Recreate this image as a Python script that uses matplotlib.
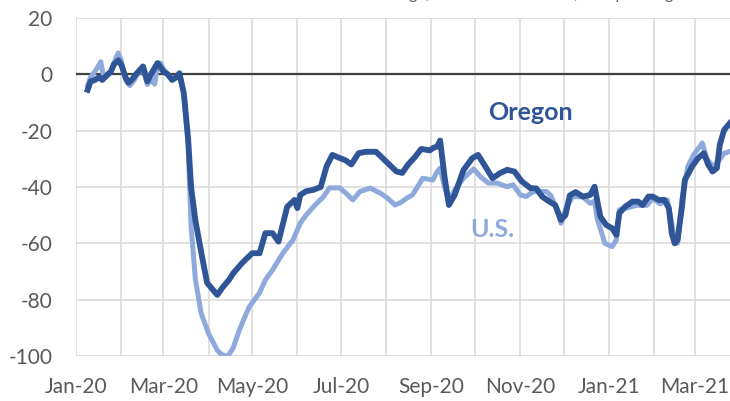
import matplotlib
matplotlib.use("Agg")
import matplotlib.pyplot as plt
import matplotlib.dates as mdates
import numpy as np
import pandas as pd

# donnees (jours depuis le 1er janvier 2020, valeur en %)
oregon_days = [8, 10, 13, 16, 18, 21, 24, 26, 29, 31, 34, 36, 39, 42, 46, 49, 52, 56, 60, 63,
               66, 69, 71, 74, 77, 79, 82, 87, 90, 94, 97, 101, 105, 108, 114, 118, 121, 126,
               130, 135, 139, 145, 150, 152, 154, 158, 163, 168, 172, 176, 181, 185, 189, 194,
               199, 206, 213, 220, 224, 228, 233, 237, 243, 245, 248, 250, 253, 256, 260, 266,
               272, 276, 281, 286, 291, 296, 301, 306, 312, 316, 320, 325, 329, 333, 336, 339,
               343, 348, 353, 356, 360, 364, 368, 371, 373, 377, 382, 386, 389, 393, 396, 400,
               404, 407, 409, 411, 413, 416, 418, 423, 427, 431, 434, 437, 440, 442, 445, 449]
oregon_vals = [-5.5, -2.5, -2.0, -1.0, -2.0, -0.5, 1.0, 3.5, 5.0, 3.5, -1.0, -3.0, -1.5, 0.5,
               2.8, -2.5, 0.5, 4.0, 1.0, 0.0, -2.0, -1.0, 0.4, -6.6, -23, -40, -52, -66, -74,
               -76.5, -78.3, -75.4, -73, -70.6, -67, -65, -63.5, -63.5, -56.4, -56.4, -59.4,
               -47, -44.6, -47.5, -42.8, -41.5, -41, -40, -32.7, -28.6, -29.7, -30.5, -32, -28,
               -27.5, -27.5, -31, -34.5, -35, -32, -29.2, -26.5, -27, -26.2, -25.6, -23.5,
               -36.3, -46.4, -42.8, -34, -29.8, -28.6, -32.7, -36.9, -35.1, -33.9, -34.5, -38,
               -40.4, -40.5, -43.4, -45.2, -46.4, -51.7, -50, -43, -41.8, -43.4, -42.8, -39.9,
               -50.5, -53.5, -54.6, -57, -49.3, -47, -45.2, -45.2, -46.4, -43.4, -43.4, -44.6,
               -44.6, -47.5, -56.4, -60, -58.8, -47, -37.5, -32.7, -29.8, -28, -32, -34.5,
               -33.3, -25, -19.7, -17.3]

us_days = [8, 10, 13, 16, 17, 19, 21, 24, 26, 29, 31, 34, 37, 40, 42, 46, 49, 52, 54, 56, 58,
           60, 63, 66, 69, 71, 74, 77, 79, 82, 86, 91, 97, 100, 103, 105, 108, 112, 116, 119,
           126, 130, 135, 142, 149, 154, 158, 163, 170, 174, 181, 186, 190, 195, 202, 209, 214,
           219, 223, 227, 231, 235, 238, 245, 248, 250, 253, 256, 260, 266, 273, 278, 283, 289,
           296, 300, 305, 309, 314, 320, 323, 326, 330, 333, 336, 341, 348, 353, 356, 358, 361,
           363, 368, 371, 373, 378, 385, 392, 396, 401, 406, 408, 411, 413, 416, 420, 424, 430,
           433, 437, 440, 445, 449]
us_vals = [-4.0, -1.0, 1.0, 3.5, 4.5, -1.0, 0.0, 1.0, 4.0, 7.6, 5.0, -2.0, -4.0, -2.0, 0.0,
           2.0, -3.6, -2.0, -3.5, 3.0, 4.0, 2.0, 0.0, -1.5, -1.0, 0.0, -7.0, -25, -54, -73, -85,
           -92, -98, -99.5, -100, -99.5, -97, -91, -86, -82.5, -77.6, -73, -69.4, -63.5, -58.8,
           -52.8, -50, -47, -43.4, -40.3, -40.3, -42.5, -44.6, -41.6, -40.4, -42.2, -44, -46.4,
           -45.5, -44, -42.8, -39.5, -36.9, -37.5, -34.5, -33.3, -40, -45, -41, -36.9, -33.6,
           -36.5, -38.6, -38.6, -39.9, -39.2, -42.8, -43.4, -41.6, -41.6, -41.6, -43, -48,
           -52.9, -48, -43.4, -43.5, -45.8, -45, -51.7, -56.4, -60, -61.2, -58.8, -48.1, -47.5,
           -46.5, -46.5, -44, -46, -44.6, -50, -58.8, -60, -44.6, -32.7, -28.6, -24.4, -29.8,
           -32.7, -31.5, -28, -27.4]

yticks = [-100, -80, -60, -40, -20, 0, 20]
start = pd.Timestamp("2020-01-01")
x_end = 449

oregon_dates = start + pd.to_timedelta(oregon_days, unit="D")
us_dates = start + pd.to_timedelta(us_days, unit="D")

plt.rcParams['font.family'] = ['Lato', 'DejaVu Sans']
plt.rcParams['axes.unicode_minus'] = False

fig = plt.figure(figsize=(7.3, 4.01), dpi=100)
ax = fig.add_axes([76 / 730, 1 - 356 / 401, 1 - 76 / 730, (356 - 18) / 401])

ax.plot(us_dates, us_vals, color='#8EA9DB', lw=3.6, solid_joinstyle='round', zorder=3)
ax.plot(oregon_dates, oregon_vals, color='#2F5597', lw=4.2, solid_joinstyle='round', zorder=4)
ax.axhline(0, color='#404040', lw=1.6, zorder=2)

ax.set_ylim(-100, 20)
ax.set_yticks(yticks)
ax.set_xlim(start, start + pd.Timedelta(days=x_end))
ax.xaxis.set_major_locator(mdates.MonthLocator(bymonth=[1, 3, 5, 7, 9, 11]))
ax.xaxis.set_minor_locator(mdates.MonthLocator())
ax.xaxis.set_major_formatter(mdates.DateFormatter('%b-%y'))

ax.grid(True, which='both', color='#D9D9D9', lw=1.1, zorder=0)
ax.set_axisbelow(True)
for s in ax.spines.values():
    s.set_visible(False)
ax.tick_params(axis='both', which='both', length=0, labelsize=15, colors='#595959')
ax.tick_params(axis='y', pad=17)
ax.tick_params(axis='x', pad=15)

ax.text(start + pd.Timedelta(days=312), -13.7, 'Oregon', color='#2F5597', fontsize=18,
        fontweight='bold', ha='center', va='center')
ax.text(start + pd.Timedelta(days=286), -55.2, 'U.S.', color='#8EA9DB', fontsize=18,
        fontweight='bold', ha='center', va='center')

# titre coupe en haut de l'image d'origine : seuls les jambages restent visibles
fig.text(317 / 730, 1 + 0.5 / 401, 'Percent change, relative to Jan 2020, 7-day average',
         color='#595959', fontsize=11.5, ha='left', va='baseline')

fig.savefig('out.png', dpi=100)
